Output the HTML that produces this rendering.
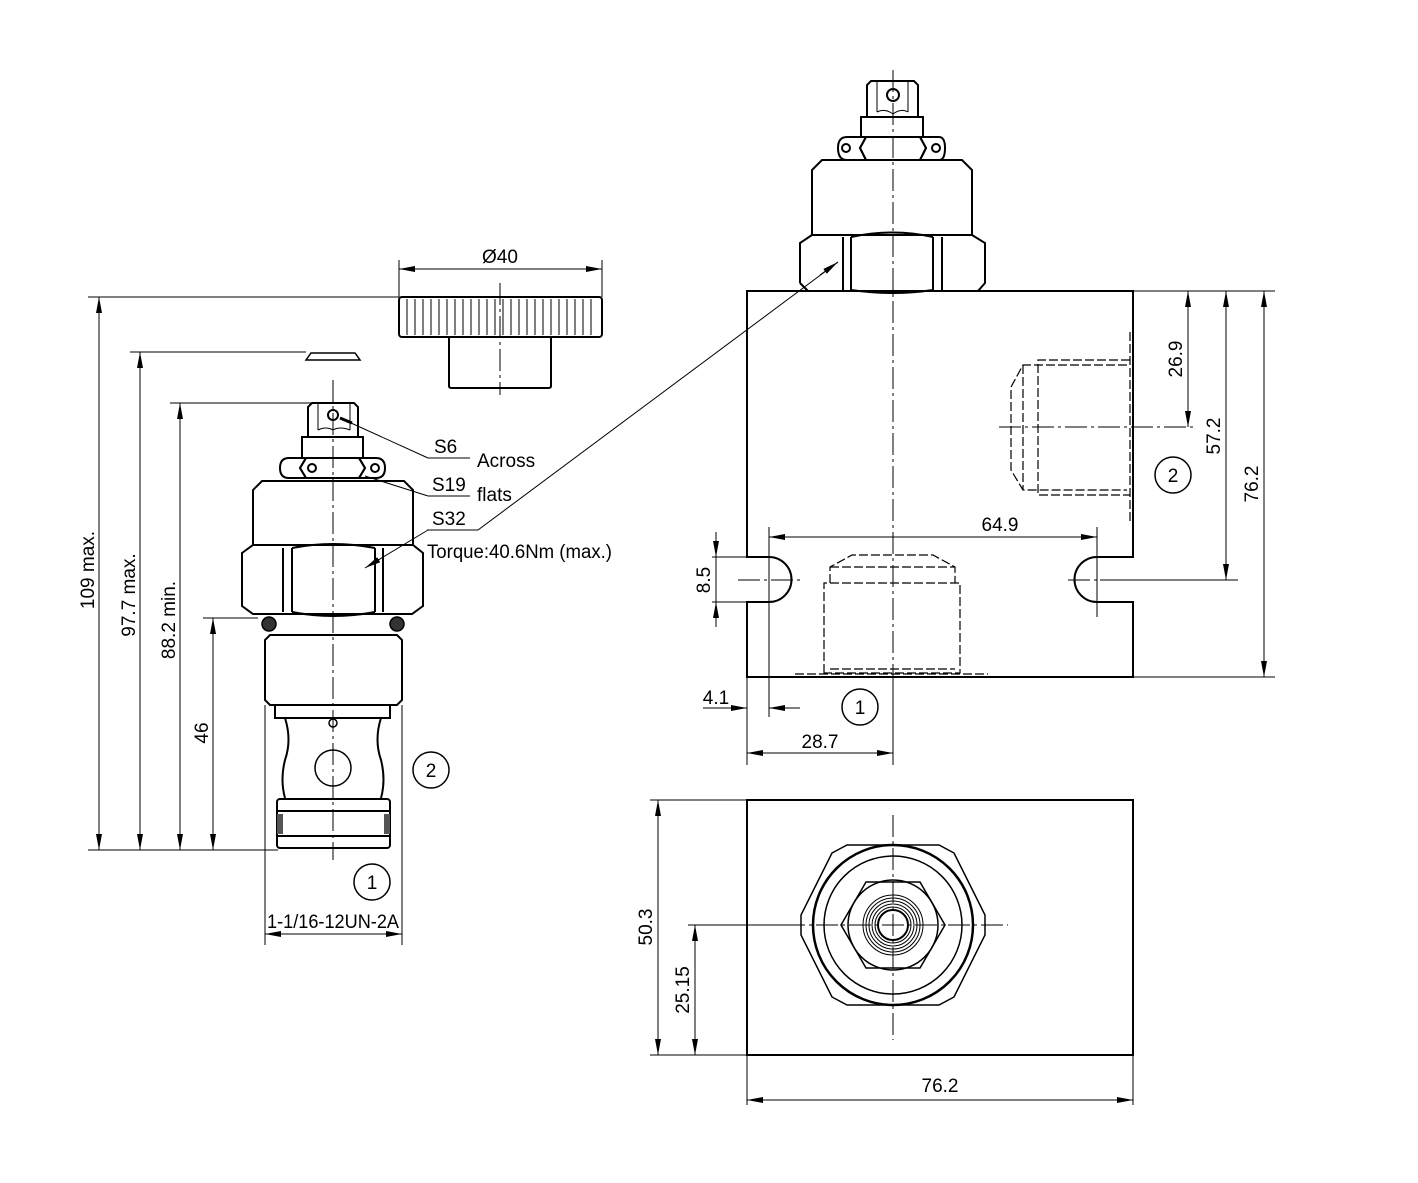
<!DOCTYPE html>
<html><head><meta charset="utf-8"><style>
html,body{margin:0;padding:0;background:#fff;}
svg{display:block;}
text{font-family:"Liberation Sans Narrow","Liberation Sans",sans-serif;font-size:19px;fill:#000;}
</style></head><body>
<svg width="1418" height="1183" viewBox="0 0 1418 1183" xmlns="http://www.w3.org/2000/svg">
<defs>
<marker id="a" viewBox="0 0 16 6" refX="16" refY="3" markerWidth="16" markerHeight="6" orient="auto-start-reverse" markerUnits="userSpaceOnUse"><path d="M0,0 L16,3 L0,6z" fill="#000"/></marker>
</defs>
<g fill="none" stroke="#000" stroke-width="1">
<!-- ===== LEFT CARTRIDGE ===== -->
<g stroke-width="2">
<path d="M308,437 V407 L312,403 H354 L358,407 V437 Z"/>
<rect x="302" y="437" width="61" height="21"/>
<path d="M306,458 H359 L365,468 L359,478 H306 L300,468 Z"/>
<path d="M289,458 H306 L300,468 L306,478 H289 Q280,478 280,468 Q280,458 289,458 Z"/>
<path d="M376,458 H359 L365,468 L359,478 H376 Q385,478 385,468 Q385,458 376,458 Z"/>
<path d="M253,545 V490 L262,481 H404 L413,490 V545"/>
<path d="M253,545 H413 L423,553 V606 L412,614 H253 L242,606 V553 Z"/>
<path d="M283,548 V612 M292,548 V612 M375,548 V612 M383,548 V612"/>
<path d="M292,548 Q333,540 375,548 M292,612 Q333,620 375,612"/>
<path d="M270,635 H397 L402,640 V700 L397,705 H270 L265,700 V640 Z"/>
<path d="M275,705 V718 H390 V705"/>
<path d="M285,718 Q292,740 285,760 Q280,780 285,798 M381,718 Q374,740 381,760 Q386,780 381,798"/>
<rect x="277" y="799" width="113" height="49" rx="3"/>
<path d="M277,811 H390 M277,836 H390"/>
</g>
<circle cx="312" cy="468" r="4" stroke-width="2"/>
<circle cx="375" cy="468" r="4" stroke-width="2"/>
<circle cx="333" cy="415" r="5" stroke-width="2"/>
<path d="M318,404 V430 M350,404 V430 M318,430 Q326,426 333,430 Q340,426 350,430"/>
<circle cx="269" cy="624" r="7" fill="#333" stroke-width="1.5"/>
<circle cx="397" cy="624" r="7" fill="#333" stroke-width="1.5"/>
<g fill="#555" stroke="none"><rect x="277" y="814" width="6" height="20"/><rect x="384" y="814" width="6" height="20"/></g>
<circle cx="333" cy="723" r="4" stroke-width="1.5"/>
<circle cx="333" cy="768" r="18" stroke-width="1.5"/>
<path d="M333,380 V860" stroke-dasharray="22,4,3,4"/>
<!-- knob -->
<rect x="399" y="297" width="203" height="40" rx="3" stroke-width="2"/>
<path d="M407,299V335M415,299V335M423,299V335M431,299V335M439,299V335M447,299V335M455,299V335M463,299V335M471,299V335M479,299V335M487,299V335M495,299V335M503,299V335M511,299V335M519,299V335M527,299V335M535,299V335M543,299V335M551,299V335M559,299V335M567,299V335M575,299V335M583,299V335M591,299V335"/>
<path d="M449,337 V386 Q449,388 452,388 H548 Q551,388 551,386 V337" stroke-width="2"/>
<path d="M500,283 V395" stroke-dasharray="22,4,3,4"/>
<path d="M399,260 V297 M602,260 V297"/>
<path d="M399,269 H602" marker-start="url(#a)" marker-end="url(#a)"/>
<!-- washer -->
<path d="M306,360 L311,353 H355 L360,360 Z" stroke-width="1.5"/>
<!-- left dims -->
<path d="M88,297 H399 M130,352 H306 M170,403 H330 M203,618 H258 M88,850 H278"/>
<path d="M99,297 V850" marker-start="url(#a)" marker-end="url(#a)"/>
<path d="M140,352 V850" marker-start="url(#a)" marker-end="url(#a)"/>
<path d="M180,403 V850" marker-start="url(#a)" marker-end="url(#a)"/>
<path d="M213,618 V850" marker-start="url(#a)" marker-end="url(#a)"/>
<path d="M265,705 V945 M402,705 V945"/>
<path d="M265,934 H402" marker-start="url(#a)" marker-end="url(#a)"/>
<!-- leaders -->
<path d="M428,458 H470 M340,418 L428,458" />
<path d="M428,496 H470 M365,476 L428,496"/>
<path d="M427,530 H478 L838,262"/>
<path d="M428,530 L365,568" marker-end="url(#a)"/>
<path d="M340,418 L352,423" stroke-width="3"/>
<path d="M820,275 L838,262" marker-end="url(#a)"/>
<circle cx="431" cy="770" r="18" stroke-width="1.5"/>
<circle cx="372" cy="882" r="18" stroke-width="1.5"/>

<!-- ===== RIGHT FRONT VIEW ===== -->
<g stroke-width="2">
<path d="M867,117 V85 L871,81 H914 L918,85 V117 Z"/>
<rect x="861" y="117" width="62" height="20"/>
<path d="M866,137 H920 L926,148 L920,160 H866 L860,148 Z"/>
<path d="M847,137 H866 L860,148 L866,160 H847 Q838,160 838,148 Q838,137 847,137 Z"/>
<path d="M939,137 H920 L926,148 L920,160 H939 Q945,160 945,148 Q945,137 939,137 Z"/>
<path d="M812,235 V170 L822,160 H962 L972,170 V235"/>
<path d="M812,235 H972 L985,243 V283 L978,291 M800,283 V243 L812,235 M800,283 L808,291"/>
<path d="M843,237 V290 M851,237 V290 M933,237 V290 M942,237 V290"/>
<path d="M851,237 Q893,228 933,237 M851,290 Q893,296 933,290"/>
<path d="M747,291 H1133 V557 H1097 A22,22 0 0 0 1097,602 H1133 V677 H747 V602 H769 A22,22 0 0 0 769,557 H747 Z"/>
</g>
<circle cx="846" cy="148" r="4" stroke-width="2"/>
<circle cx="936" cy="148" r="4" stroke-width="2"/>
<circle cx="893" cy="95" r="6" stroke-width="2"/>
<path d="M877,82 V112 M908,82 V112 M877,112 Q885,108 893,114 Q901,108 908,112"/>
<path d="M893,70 V765" stroke-dasharray="22,4,3,4"/>
<!-- hidden ports -->
<g stroke-dasharray="9,3" stroke-width="1.2">
<path d="M1127,365 H1023 L1011,387 V470 L1023,490 H1127"/>
<path d="M1023,365 V490"/>
<path d="M1130,360 H1038 V495 H1130"/>
<path d="M1130,332 V523"/>
<path d="M824,673 V583 H960 V673 Z"/>
<path d="M830,583 V567 L852,555 H933 L955,567 V583"/>
<path d="M830,567 H955 M830,669 H955"/>
<path d="M795,674 H988"/>
</g>
<path d="M999,427 H1197" stroke-dasharray="22,4,3,4"/>
<path d="M738,580 H800 M1068,580 H1237" stroke-dasharray="22,4,3,4"/>
<path d="M1238,580 H1100"/>
<!-- dims right -->
<path d="M769,527 V717 M1097,527 V617"/>
<path d="M769,537 H1097" marker-start="url(#a)" marker-end="url(#a)"/>
<path d="M1133,291 H1275 M1133,677 H1275"/>
<path d="M1188,291 V427" marker-start="url(#a)" marker-end="url(#a)"/>
<path d="M1226,291 V580" marker-start="url(#a)" marker-end="url(#a)"/>
<path d="M1264,291 V677" marker-start="url(#a)" marker-end="url(#a)"/>
<path d="M712,557 H747 M712,602 H747"/>
<path d="M716,532 V557" marker-end="url(#a)"/>
<path d="M716,627 V602" marker-end="url(#a)"/>
<path d="M716,557 V602"/>
<path d="M703,708 H747" marker-end="url(#a)"/>
<path d="M800,708 H769" marker-end="url(#a)"/>
<path d="M747,677 V765 M893,677 V765"/>
<path d="M747,753 H893" marker-start="url(#a)" marker-end="url(#a)"/>
<circle cx="860" cy="707" r="18" stroke-width="1.5"/>
<circle cx="1173" cy="475" r="18" stroke-width="1.5"/>

<!-- ===== BOTTOM VIEW ===== -->
<rect x="747" y="800" width="386" height="255" stroke-width="2"/>
<g stroke-width="1.5">
<path d="M847,845 H939 L954,853 L985,915 V935 L954,997 L939,1005 H847 L832,997 L801,935 V915 L832,853 Z"/>
<circle cx="893" cy="925" r="80" stroke-width="2.5"/>
<circle cx="893" cy="925" r="69"/>
<path d="M866,882 H920 L945,925 L920,968 H866 L841,925 Z"/>
<circle cx="893" cy="925" r="45"/>
<circle cx="893" cy="925" r="30" stroke-width="1"/>
<circle cx="893" cy="925" r="27" stroke-width="1"/>
<circle cx="893" cy="925" r="24" stroke-width="1"/>
<circle cx="893" cy="925" r="21" stroke-width="1"/>
<circle cx="893" cy="925" r="18" stroke-width="1"/>
<circle cx="893" cy="925" r="15" stroke-width="2"/>
</g>
<path d="M893,815 V1040 M783,925 H1008" stroke-dasharray="22,4,3,4"/>
<path d="M688,925 H783"/>
<path d="M650,800 H747 M650,1055 H747"/>
<path d="M658,800 V1055" marker-start="url(#a)" marker-end="url(#a)"/>
<path d="M695,925 V1055" marker-start="url(#a)" marker-end="url(#a)"/>
<path d="M747,1055 V1105 M1133,1055 V1105"/>
<path d="M747,1100 H1133" marker-start="url(#a)" marker-end="url(#a)"/>
</g>

<!-- ===== TEXT ===== -->
<g style="font-size:20px">
<text x="500" y="263" text-anchor="middle">Ø40</text>
<text transform="translate(94,570) rotate(-90)" text-anchor="middle">109 max.</text>
<text transform="translate(135,595) rotate(-90)" text-anchor="middle">97.7 max.</text>
<text transform="translate(175,620) rotate(-90)" text-anchor="middle">88.2 min.</text>
<text transform="translate(208,733) rotate(-90)" text-anchor="middle">46</text>
<text x="434" y="453">S6</text>
<text x="477" y="467">Across</text>
<text x="432" y="491">S19</text>
<text x="477" y="501">flats</text>
<text x="432" y="525">S32</text>
<text x="427" y="558" textLength="185" lengthAdjust="spacingAndGlyphs">Torque:40.6Nm  (max.)</text>
<text x="431" y="777" text-anchor="middle">2</text>
<text x="372" y="889" text-anchor="middle">1</text>
<text x="267" y="928" textLength="132" lengthAdjust="spacingAndGlyphs">1-1/16-12UN-2A</text>
<text x="1000" y="531" text-anchor="middle">64.9</text>
<text transform="translate(1182,359) rotate(-90)" text-anchor="middle">26.9</text>
<text transform="translate(1220,436) rotate(-90)" text-anchor="middle">57.2</text>
<text transform="translate(1258,484) rotate(-90)" text-anchor="middle">76.2</text>
<text transform="translate(710,580) rotate(-90)" text-anchor="middle">8.5</text>
<text x="716" y="704" text-anchor="middle">4.1</text>
<text x="820" y="748" text-anchor="middle">28.7</text>
<text x="860" y="714" text-anchor="middle">1</text>
<text x="1173" y="482" text-anchor="middle">2</text>
<text transform="translate(652,927) rotate(-90)" text-anchor="middle">50.3</text>
<text transform="translate(689,990) rotate(-90)" text-anchor="middle">25.15</text>
<text x="940" y="1092" text-anchor="middle">76.2</text>
</g>
</svg>
</body></html>
